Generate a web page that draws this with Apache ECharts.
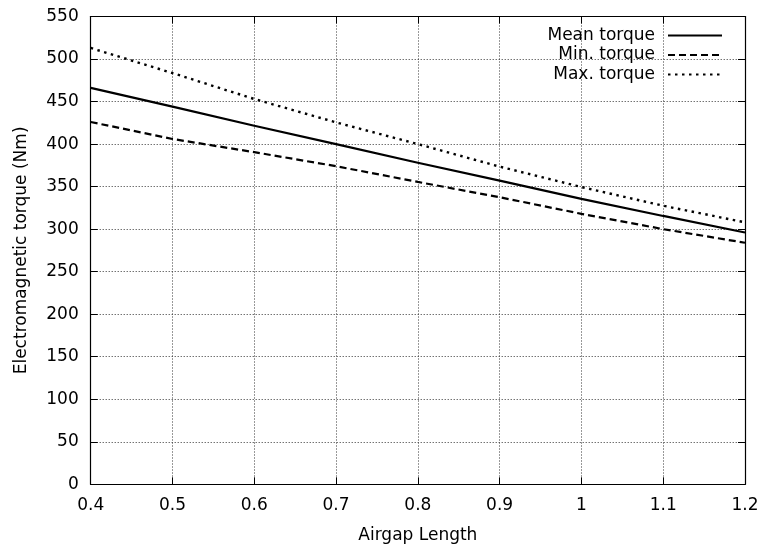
<!DOCTYPE html>
<html>
<head>
<meta charset="utf-8">
<script src="https://cdn.jsdelivr.net/npm/echarts@6/dist/echarts.min.js"></script>
<style>html,body{margin:0;padding:0;background:#fff}#c{width:760px;height:545px}</style>
</head>
<body>
<div id="c"></div>
<script>
var airgap = [0.4, 0.5, 0.6, 0.7, 0.8, 0.9, 1.0, 1.1, 1.2];
var meanTorque = [466, 444, 421.5, 400, 378, 357, 335.5, 315.5, 296];
var minTorque = [426, 406, 390.5, 374, 355.5, 337.5, 318, 300, 284];
var maxTorque = [513, 483.5, 453, 425.5, 400, 373.5, 349.5, 327.5, 308];
var seriesNames = ['Mean torque', 'Min. torque', 'Max. torque'];

var FONT = 'DejaVu Sans';
var FS = 17;
function pairs(ys) { return airgap.map(function (x, i) { return [x, ys[i]]; }); }

var chart = echarts.init(document.getElementById('c'), null, {renderer: 'canvas'});
var axisCommon = {
  axisLine: {show: true, onZero: false, lineStyle: {color: '#000', width: 1.2}},
  axisTick: {show: true, inside: true, length: 7, lineStyle: {color: '#000', width: 1}},
};
chart.setOption({
  animation: false,
  backgroundColor: '#fff',
  textStyle: {fontFamily: FONT, color: '#000'},
  grid: {left: 90.7, right: 15, top: 16.5, bottom: 60.7, containLabel: false, outerBoundsMode: 'none'},
  legend: {
    data: seriesNames,
    orient: 'vertical',
    right: 32,
    top: 22,
    align: 'right',
    itemWidth: 54,
    itemHeight: 14,
    itemGap: 2.5,
    itemStyle: {color: 'transparent', borderColor: 'transparent', borderWidth: 0},
    textStyle: {fontFamily: FONT, fontSize: FS, color: '#000', padding: [0, 8, 0, 0]},
    backgroundColor: 'transparent'
  },
  xAxis: [{
    type: 'value', min: 0.4, max: 1.2, interval: 0.1,
    name: 'Airgap Length', nameLocation: 'middle', nameGap: 43,
    nameTextStyle: {fontFamily: FONT, fontSize: FS, color: '#000'},
    axisLine: axisCommon.axisLine, axisTick: axisCommon.axisTick,
    axisLabel: {margin: 13, fontFamily: FONT, fontSize: FS, color: '#000',
      formatter: function (v) { return String(+v.toFixed(1)); }},
    splitLine: {show: true, lineStyle: {color: '#333', width: 1, type: [1, 2]}}
  }, {
    type: 'value', position: 'top', min: 0.4, max: 1.2, interval: 0.1,
    axisLine: axisCommon.axisLine, axisTick: axisCommon.axisTick,
    axisLabel: {show: false}, splitLine: {show: false}
  }],
  yAxis: [{
    type: 'value', min: 0, max: 550, interval: 50,
    name: 'Electromagnetic torque (Nm)', nameLocation: 'middle', nameGap: 61,
    nameTextStyle: {fontFamily: FONT, fontSize: FS, color: '#000'},
    axisLine: axisCommon.axisLine, axisTick: axisCommon.axisTick,
    axisLabel: {margin: 12, fontFamily: FONT, fontSize: FS, color: '#000'},
    splitLine: {show: true, lineStyle: {color: '#333', width: 1, type: [1, 2]}}
  }, {
    type: 'value', position: 'right', min: 0, max: 550, interval: 50,
    axisLine: axisCommon.axisLine, axisTick: axisCommon.axisTick,
    axisLabel: {show: false}, splitLine: {show: false}
  }],
  series: [{
    name: seriesNames[0], type: 'line', data: pairs(meanTorque), symbol: 'none',
    lineStyle: {color: '#000', width: 2.2, type: 'solid'}, itemStyle: {color: '#000'}
  }, {
    name: seriesNames[1], type: 'line', data: pairs(minTorque), symbol: 'none',
    lineStyle: {color: '#000', width: 2.2, type: [7, 4]}, itemStyle: {color: '#000'}
  }, {
    name: seriesNames[2], type: 'line', data: pairs(maxTorque), symbol: 'none',
    lineStyle: {color: '#000', width: 2.4, type: [2.5, 4.5]}, itemStyle: {color: '#000'}
  }]
});
</script>
</body>
</html>
